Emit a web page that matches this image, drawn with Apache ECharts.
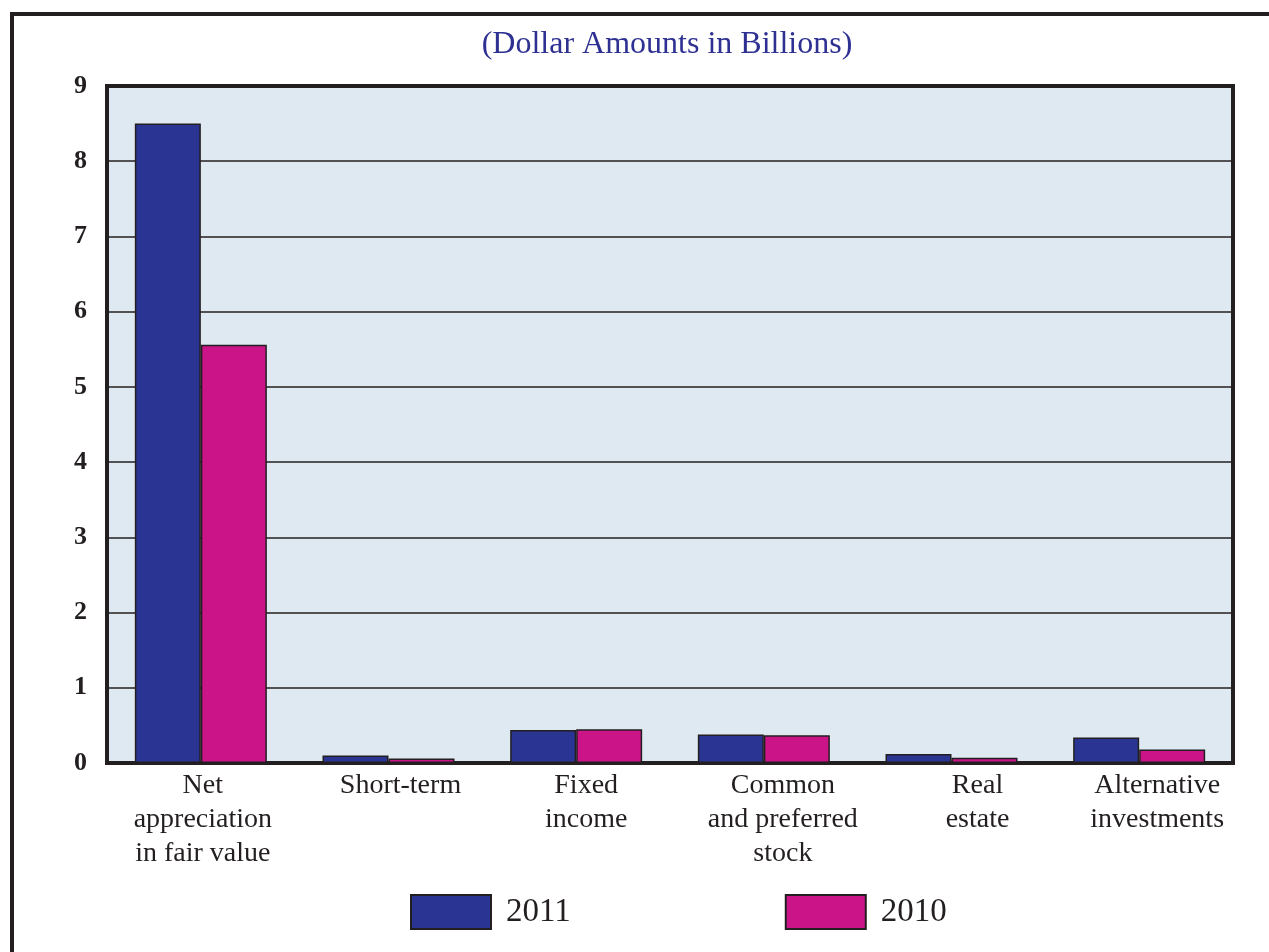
<!DOCTYPE html>
<html>
<head>
<meta charset="utf-8">
<script src="https://cdn.jsdelivr.net/npm/echarts@6/dist/echarts.min.js"></script>
<style>
  html, body { margin: 0; padding: 0; background: #fff; }
  #chart { width: 1269px; height: 952px; }
</style>
</head>
<body>
<div id="chart"></div>
<script>
const categories = [
  "Net\nappreciation\nin fair value",
  "Short-term",
  "Fixed\nincome",
  "Common\nand preferred\nstock",
  "Real\nestate",
  "Alternative\ninvestments"
];
const values2011 = [8.5, 0.1, 0.44, 0.38, 0.12, 0.34];
const values2010 = [5.56, 0.06, 0.45, 0.37, 0.07, 0.18];
const yTicks = [0, 1, 2, 3, 4, 5, 6, 7, 8, 9];

// labels in the original sit a little right of the category centres
const labelShift = [4, 24, 20, 38, 52, 36];

const ink = "#231f20";
const serif = "'Liberation Serif', 'DejaVu Serif', serif";

var myChart = echarts.init(document.getElementById("chart"));

const option = {
  animation: false,
  title: {
    text: "(Dollar Amounts in Billions)",
    left: 662,
    textAlign: "center",
    top: 24,
    textStyle: { fontFamily: serif, fontSize: 32, fontWeight: "normal", color: "#2e3192" }
  },
  graphic: [
    {
      type: "rect",
      shape: { x: 12, y: 14, width: 1300, height: 1000 },
      style: { fill: "none", stroke: ink, lineWidth: 4 },
      silent: true
    }
  ],
  legend: {
    bottom: 17,
    left: 405,
    itemWidth: 80,
    itemHeight: 34,
    itemGap: 214,
    icon: "rect",
    textStyle: { fontFamily: serif, fontSize: 33, color: ink, padding: [0, 0, 0, 10] },
    data: ["2011", "2010"]
  },
  grid: {
    left: 107,
    right: 36,
    top: 86,
    bottom: 189,
    show: true,
    backgroundColor: "#dfe9f2",
    borderColor: ink,
    borderWidth: 4
  },
  xAxis: {
    type: "category",
    data: categories.map((c, i) => ({
      value: c,
      textStyle: { padding: [0, 0, 0, labelShift[i]] }
    })),
    axisLine: { show: true, lineStyle: { color: ink, width: 4 } },
    axisTick: { show: false },
    axisLabel: {
      fontFamily: serif,
      fontSize: 28,
      color: ink,
      lineHeight: 34,
      margin: 6,
      interval: 0
    }
  },
  yAxis: {
    type: "value",
    min: yTicks[0],
    max: yTicks[yTicks.length - 1],
    interval: 1,
    axisLine: { show: false },
    axisTick: { show: false },
    splitLine: { lineStyle: { color: ink, width: 1.5 } },
    axisLabel: {
      fontFamily: serif,
      fontSize: 26,
      fontWeight: "bold",
      color: ink,
      margin: 20
    }
  },
  series: [
    {
      name: "2011",
      type: "bar",
      data: values2011,
      barWidth: 66,
      barGap: "0%",
      itemStyle: { color: "#2a3593", borderColor: ink, borderWidth: 1.5 }
    },
    {
      name: "2010",
      type: "bar",
      data: values2010,
      barWidth: 66,
      itemStyle: { color: "#cc1489", borderColor: ink, borderWidth: 1.5 }
    }
  ]
};

option && myChart.setOption(option);
</script>
</body>
</html>
